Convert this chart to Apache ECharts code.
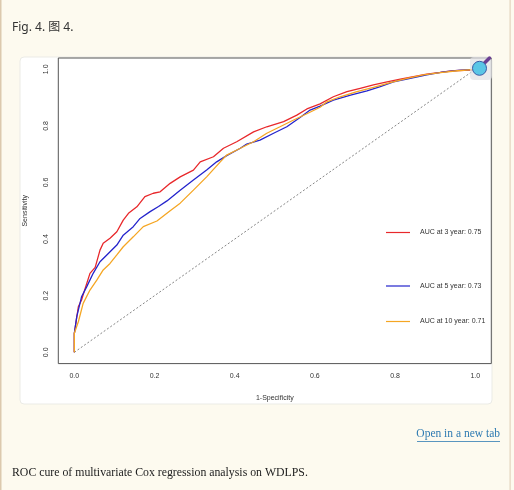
<!DOCTYPE html>
<html>
<head>
<meta charset="utf-8">
<script src="https://cdn.jsdelivr.net/npm/echarts@6/dist/echarts.min.js"></script>
<style>
  html, body { margin: 0; padding: 0; background: #fdfaef; }
  #chart { width: 514px; height: 490px; }
</style>
</head>
<body>
<div id="chart"></div>
<script>
// ---- Data ----
const seriesNames = ['AUC at 3 year: 0.75', 'AUC at 5 year: 0.73', 'AUC at 10 year: 0.71'];
const seriesColors = ['#e8282b', '#2424cc', '#f5a623'];

const fpr3 = [0, 0, 0.010, 0.018, 0.027, 0.039, 0.052, 0.064, 0.072, 0.089, 0.106, 0.122, 0.135, 0.156, 0.176, 0.197, 0.214, 0.239, 0.264, 0.297, 0.314, 0.347, 0.372, 0.405, 0.447, 0.480, 0.522, 0.555, 0.580, 0.613, 0.646, 0.680, 0.713, 0.746, 0.780, 0.813, 0.846, 0.879, 0.913, 0.946, 0.988, 1];
const tpr3 = [0, 0.067, 0.161, 0.185, 0.226, 0.279, 0.300, 0.361, 0.385, 0.403, 0.426, 0.467, 0.491, 0.514, 0.550, 0.562, 0.567, 0.597, 0.620, 0.644, 0.673, 0.691, 0.721, 0.744, 0.779, 0.797, 0.815, 0.838, 0.860, 0.878, 0.903, 0.921, 0.933, 0.945, 0.956, 0.965, 0.974, 0.983, 0.989, 0.995, 0.997, 1];

const fpr5 = [0, 0, 0.006, 0.018, 0.031, 0.047, 0.064, 0.081, 0.106, 0.122, 0.147, 0.164, 0.189, 0.210, 0.231, 0.264, 0.297, 0.330, 0.355, 0.380, 0.414, 0.430, 0.463, 0.497, 0.530, 0.563, 0.588, 0.613, 0.646, 0.689, 0.730, 0.763, 0.796, 0.838, 0.879, 0.921, 0.963, 1];
const tpr5 = [0, 0.067, 0.126, 0.196, 0.232, 0.279, 0.320, 0.344, 0.379, 0.414, 0.444, 0.473, 0.497, 0.515, 0.535, 0.573, 0.609, 0.644, 0.673, 0.695, 0.721, 0.736, 0.750, 0.774, 0.797, 0.830, 0.856, 0.870, 0.891, 0.909, 0.924, 0.939, 0.956, 0.968, 0.980, 0.991, 0.997, 1];

const fpr10 = [0, 0, 0.010, 0.022, 0.039, 0.056, 0.072, 0.089, 0.106, 0.122, 0.147, 0.172, 0.206, 0.239, 0.264, 0.297, 0.330, 0.364, 0.380, 0.414, 0.447, 0.480, 0.513, 0.547, 0.580, 0.613, 0.630, 0.663, 0.705, 0.746, 0.788, 0.830, 0.871, 0.913, 0.955, 1];
const tpr10 = [0, 0.067, 0.108, 0.173, 0.220, 0.255, 0.291, 0.314, 0.344, 0.373, 0.408, 0.444, 0.464, 0.500, 0.527, 0.573, 0.620, 0.673, 0.697, 0.721, 0.744, 0.774, 0.797, 0.821, 0.843, 0.866, 0.885, 0.903, 0.921, 0.936, 0.953, 0.968, 0.980, 0.988, 0.995, 1];

const diagX = [0, 1];
const diagY = [0, 1];

const xTicks = [0, 0.2, 0.4, 0.6, 0.8, 1.0];
const yTicks = [0, 0.2, 0.4, 0.6, 0.8, 1.0];

const xAxisTitle = '1-Specificity';
const yAxisTitle = 'Sensitivity';
const figLabel = 'Fig. 4. 图 4.';
const linkText = 'Open in a new tab';
const captionText = 'ROC cure of multivariate Cox regression analysis on WDLPS.';

// ---- Build ----
const zip = (xs, ys) => xs.map((x, i) => [x, ys[i]]);
const curves = [zip(fpr3, tpr3), zip(fpr5, tpr5), zip(fpr10, tpr10)];

const legendTops = [229, 282.5, 318];
const axisFont = 'Liberation Sans';

const chart = echarts.init(document.getElementById('chart'), null, { renderer: 'canvas' });

const option = {
  animation: false,
  backgroundColor: '#fdfaef',
  grid: {
    left: 58.3, right: 22.7, top: 58, bottom: 126.4,
    show: true, borderColor: '#555', borderWidth: 1, backgroundColor: '#fff', z: 1
  },
  xAxis: {
    type: 'value', min: -0.04, max: 1.04,
    axisLine: { show: false },
    splitLine: { show: false },
    axisTick: { show: true, customValues: xTicks, length: 4, lineStyle: { color: '#555', width: 1 } },
    axisLabel: { customValues: xTicks, formatter: v => v.toFixed(1), fontSize: 7, color: '#333', margin: 9, fontFamily: axisFont },
    name: xAxisTitle, nameLocation: 'middle', nameGap: 31,
    nameTextStyle: { fontSize: 7, color: '#333', fontFamily: axisFont }
  },
  yAxis: {
    type: 'value', min: -0.04, max: 1.04,
    axisLine: { show: false },
    splitLine: { show: false },
    axisTick: { show: true, customValues: yTicks, length: 4, lineStyle: { color: '#555', width: 1 } },
    axisLabel: { customValues: yTicks, formatter: v => v.toFixed(1), fontSize: 7, color: '#333', margin: 9, rotate: 90, fontFamily: axisFont },
    name: yAxisTitle, nameLocation: 'middle', nameGap: 30,
    nameTextStyle: { fontSize: 7, color: '#333', fontFamily: axisFont }
  },
  legend: seriesNames.map((n, i) => ({
    data: [n], left: 386, top: legendTops[i], orient: 'vertical', padding: 0,
    icon: 'rect', itemWidth: 24, itemHeight: 1.2, selectedMode: false,
    textStyle: { fontSize: 7, color: '#333', fontFamily: axisFont, padding: [0, 0, 0, 5] }
  })),
  series: [
    {
      type: 'line', name: 'diag', data: zip(diagX, diagY), symbol: 'none', silent: true,
      lineStyle: { color: '#666', width: 0.8, type: [2, 2] }, z: 2
    }
  ].concat(curves.map((d, i) => ({
    type: 'line', name: seriesNames[i], data: d, symbol: 'none',
    color: seriesColors[i],
    lineStyle: { color: seriesColors[i], width: 1.3 }, z: 3 + i
  }))),
  graphic: [
    // page borders
    { type: 'rect', shape: { x: 0, y: 0, width: 1.5, height: 490 }, style: { fill: '#dcc9ae' }, z: -20, silent: true },
    { type: 'rect', shape: { x: 509.5, y: 0, width: 1.2, height: 490 }, style: { fill: '#e3d3bd' }, z: -20, silent: true },
    // white figure box
    { type: 'rect', shape: { x: 20, y: 57, width: 472, height: 347, r: 4 }, style: { fill: '#fff', stroke: '#ebebe6', lineWidth: 1 }, z: -10, silent: true },
    // texts
    { type: 'text', left: 12, top: 22, style: { text: figLabel, font: '12px "Noto Sans", "Noto Sans CJK SC", sans-serif', fill: '#333' }, z: 10 },
    { type: 'text', right: 14, top: 427.5, style: { text: linkText, font: '11.5px "Liberation Serif", serif', fill: '#2f7bb2' }, z: 10 },
    { type: 'line', shape: { x1: 417, y1: 441.5, x2: 500, y2: 441.5 }, style: { stroke: '#2f7bb2', lineWidth: 0.8 }, z: 10, silent: true },
    { type: 'text', left: 12, top: 467, style: { text: captionText, font: '11.8px "Liberation Serif", serif', fill: '#222' }, z: 10 },
    // corner icon
    { type: 'rect', shape: { x: 470, y: 57, width: 22, height: 23, r: 4 }, style: { fill: 'rgba(225,225,228,0.7)' }, z: 20, silent: true },
    { type: 'line', shape: { x1: 484.5, y1: 63, x2: 489.5, y2: 58 }, style: { stroke: '#6b3f93', lineWidth: 3.5, lineCap: 'round' }, z: 21, silent: true },
    { type: 'circle', shape: { cx: 479.5, cy: 68.3, r: 7 }, style: { fill: '#5ac6e6', stroke: '#3d5ca6', lineWidth: 1 }, z: 22, silent: true }
  ]
};

chart.setOption(option);
</script>
</body>
</html>
